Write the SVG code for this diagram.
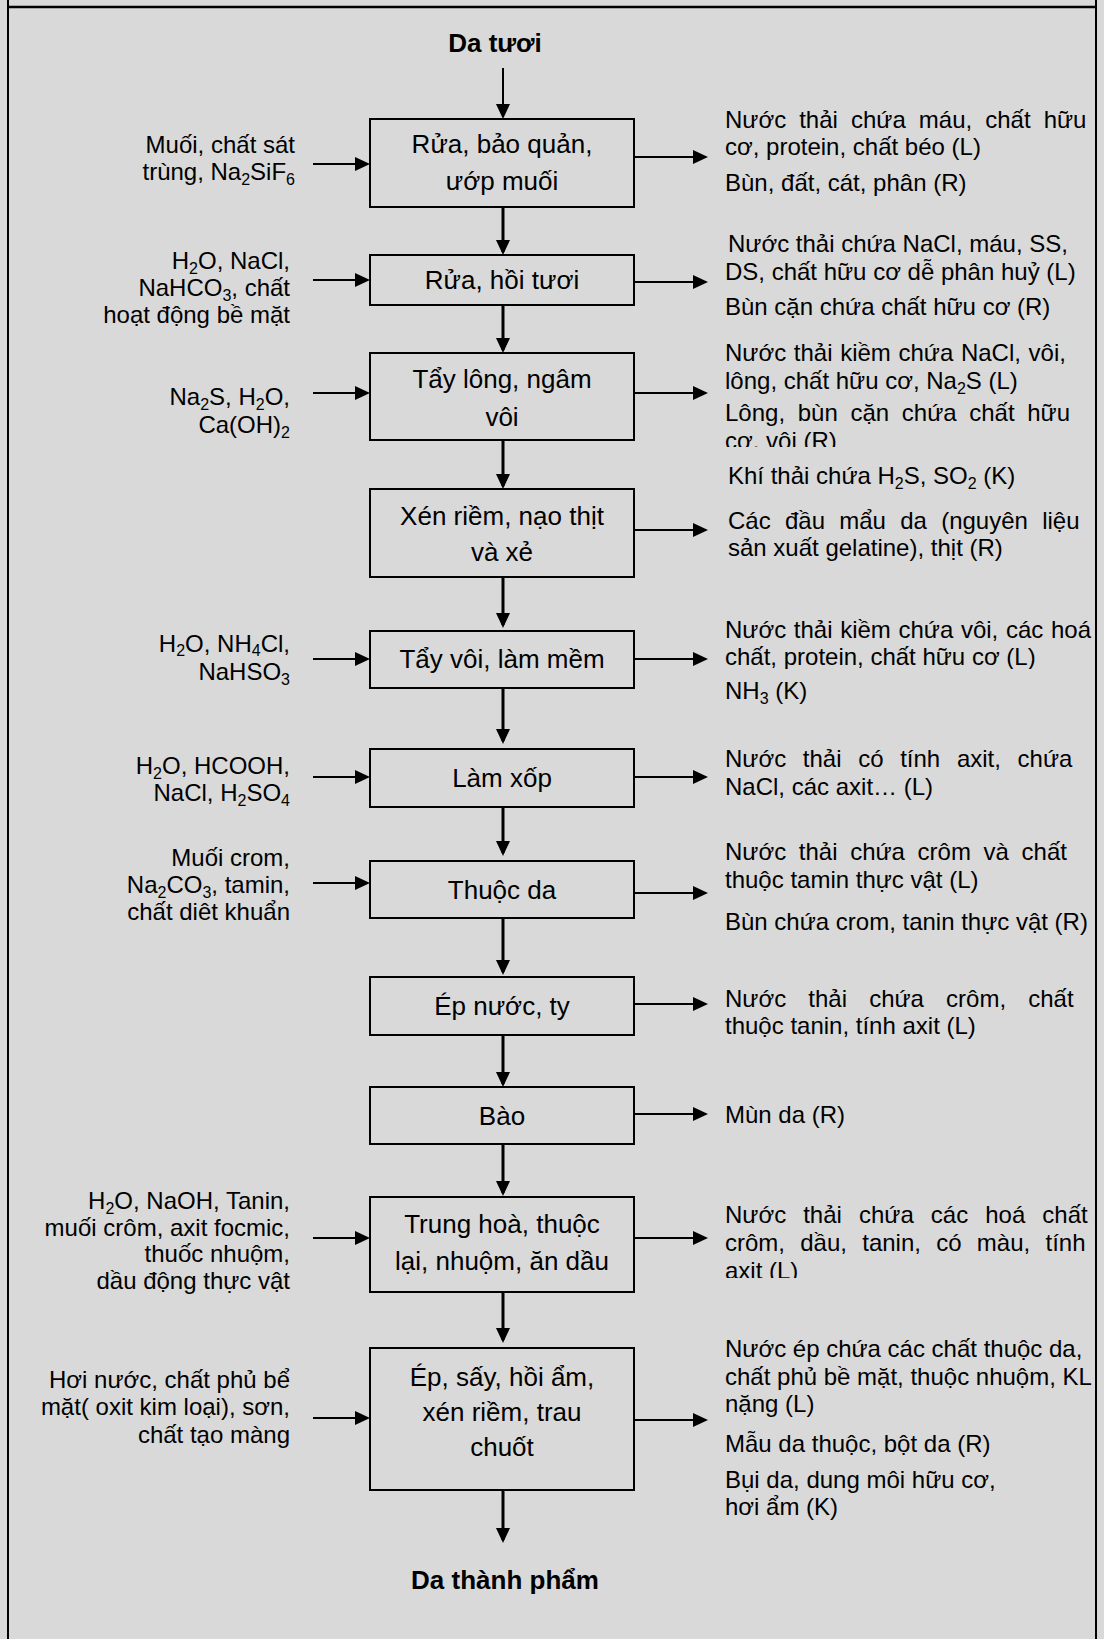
<svg xmlns="http://www.w3.org/2000/svg" width="1104" height="1639" viewBox="0 0 1104 1639">
  <defs>
    <style>
      text { font-family: "Liberation Sans", Arial, sans-serif; fill: #000; }
      .box { fill: none; stroke: #000; stroke-width: 2; }
      .bt { font-size: 26px; text-anchor: middle; }
      .hd { font-size: 26px; font-weight: bold; text-anchor: middle; }
      .lt { font-size: 24px; text-anchor: end; }
      .rt { font-size: 24px; }
      .s { font-size: 16px; }
      .v { stroke: #000; stroke-width: 3; fill: none; marker-end: url(#ah); }
      .v0 { stroke: #000; stroke-width: 2; fill: none; marker-end: url(#ah); }
      .h { stroke: #000; stroke-width: 2; fill: none; marker-end: url(#ah); }
      .frame { stroke: #000; fill: none; }
    </style>
    <marker id="ah" markerUnits="userSpaceOnUse" markerWidth="15" markerHeight="14" refX="12" refY="7" orient="auto">
      <path d="M0,0 L15,7 L0,14 z" fill="#000"/>
    </marker>
    <clipPath id="clip3"><rect x="700" y="330" width="400" height="117"/></clipPath>
    <clipPath id="clip5"><rect x="700" y="610" width="400" height="59"/></clipPath>
    <clipPath id="clip10"><rect x="700" y="1190" width="400" height="88"/></clipPath>
  </defs>

  <!-- page background and table frame -->
  <rect x="0" y="0" width="1104" height="1639" fill="#d9d9d9"/>
  <line class="frame" x1="8" y1="7" x2="1096" y2="7" stroke-width="2.5"/>
  <line class="frame" x1="8" y1="0" x2="8" y2="1639" stroke-width="2"/>
  <line class="frame" x1="1096" y1="0" x2="1096" y2="1639" stroke-width="2"/>

  <!-- flow connectors -->
  <g id="connectors">
    <line class="v0" x1="503" y1="68" x2="503" y2="116"/>
    <line class="v" x1="503" y1="207" x2="503" y2="252"/>
    <line class="v" x1="503" y1="305" x2="503" y2="350"/>
    <line class="v" x1="503" y1="440" x2="503" y2="486"/>
    <line class="v" x1="503" y1="577" x2="503" y2="625"/>
    <line class="v" x1="503" y1="688" x2="503" y2="741"/>
    <line class="v" x1="503" y1="807" x2="503" y2="853"/>
    <line class="v" x1="503" y1="918" x2="503" y2="972"/>
    <line class="v" x1="503" y1="1035" x2="503" y2="1084"/>
    <line class="v" x1="503" y1="1144" x2="503" y2="1193"/>
    <line class="v" x1="503" y1="1292" x2="503" y2="1340"/>
    <line class="v" x1="503" y1="1490" x2="503" y2="1540"/>
    <!-- inputs -->
    <line class="h" x1="313" y1="164" x2="367" y2="164"/>
    <line class="h" x1="313" y1="280" x2="367" y2="280"/>
    <line class="h" x1="313" y1="393" x2="367" y2="393"/>
    <line class="h" x1="313" y1="659" x2="367" y2="659"/>
    <line class="h" x1="313" y1="777" x2="367" y2="777"/>
    <line class="h" x1="313" y1="883" x2="367" y2="883"/>
    <line class="h" x1="313" y1="1238" x2="367" y2="1238"/>
    <line class="h" x1="313" y1="1418" x2="367" y2="1418"/>
    <!-- outputs -->
    <line class="h" x1="635" y1="157" x2="705" y2="157"/>
    <line class="h" x1="635" y1="282" x2="705" y2="282"/>
    <line class="h" x1="635" y1="393" x2="705" y2="393"/>
    <line class="h" x1="635" y1="530" x2="705" y2="530"/>
    <line class="h" x1="635" y1="659" x2="705" y2="659"/>
    <line class="h" x1="635" y1="777" x2="705" y2="777"/>
    <line class="h" x1="635" y1="893" x2="705" y2="893"/>
    <line class="h" x1="635" y1="1004" x2="705" y2="1004"/>
    <line class="h" x1="635" y1="1114" x2="705" y2="1114"/>
    <line class="h" x1="635" y1="1238" x2="705" y2="1238"/>
    <line class="h" x1="635" y1="1420" x2="705" y2="1420"/>
  </g>

  <g id="start">
    <text class="hd" x="495" y="52">Da tươi</text>
  </g>

  <g id="step1">
    <rect class="box" x="370" y="119" width="264" height="88"/>
    <text class="bt" x="502" y="153">Rửa, bảo quản,</text>
    <text class="bt" x="502" y="190">ướp muối</text>
  </g>
  <g id="in1">
    <text class="lt" x="295" y="153">Muối, chất sát</text>
    <text class="lt" x="295" y="180">trùng, Na<tspan class="s" dy="5">2</tspan><tspan dy="-5">SiF</tspan><tspan class="s" dy="5">6</tspan></text>
  </g>
  <g id="out1">
    <text class="rt" x="725" y="128" style="word-spacing:6.4px">Nước thải chứa máu, chất hữu</text>
    <text class="rt" x="725" y="155">cơ, protein, chất béo (L)</text>
    <text class="rt" x="725" y="191">Bùn, đất, cát, phân (R)</text>
  </g>

  <g id="step2">
    <rect class="box" x="370" y="255" width="264" height="50"/>
    <text class="bt" x="502" y="289">Rửa, hồi tươi</text>
  </g>
  <g id="in2">
    <text class="lt" x="290" y="269">H<tspan class="s" dy="5">2</tspan><tspan dy="-5">O, NaCl,</tspan></text>
    <text class="lt" x="290" y="296">NaHCO<tspan class="s" dy="5">3</tspan><tspan dy="-5">, chất</tspan></text>
    <text class="lt" x="290" y="323">hoạt động bề mặt</text>
  </g>
  <g id="out2">
    <text class="rt" x="728" y="252">Nước thải chứa NaCl, máu, SS,</text>
    <text class="rt" x="725" y="280">DS, chất hữu cơ dễ phân huỷ (L)</text>
    <text class="rt" x="725" y="315">Bùn cặn chứa chất hữu cơ (R)</text>
  </g>

  <g id="step3">
    <rect class="box" x="370" y="353" width="264" height="87"/>
    <text class="bt" x="502" y="388">Tẩy lông, ngâm</text>
    <text class="bt" x="502" y="426">vôi</text>
  </g>
  <g id="in3">
    <text class="lt" x="290" y="405">Na<tspan class="s" dy="5">2</tspan><tspan dy="-5">S, H</tspan><tspan class="s" dy="5">2</tspan><tspan dy="-5">O,</tspan></text>
    <text class="lt" x="290" y="433">Ca(OH)<tspan class="s" dy="5">2</tspan></text>
  </g>
  <g id="out3" clip-path="url(#clip3)">
    <text class="rt" x="725" y="361" style="word-spacing:1px">Nước thải kiềm chứa NaCl, vôi,</text>
    <text class="rt" x="725" y="389">lông, chất hữu cơ, Na<tspan class="s" dy="5">2</tspan><tspan dy="-5">S (L)</tspan></text>
    <text class="rt" x="725" y="421" style="word-spacing:6px">Lông, bùn cặn chứa chất hữu</text>
    <text class="rt" x="725" y="449">cơ, vôi (R)</text>
  </g>

  <g id="step4">
    <rect class="box" x="370" y="489" width="264" height="88"/>
    <text class="bt" x="502" y="525">Xén riềm, nạo thịt</text>
    <text class="bt" x="502" y="561">và xẻ</text>
  </g>
  <g id="out4">
    <text class="rt" x="728" y="484">Khí thải chứa H<tspan class="s" dy="5">2</tspan><tspan dy="-5">S, SO</tspan><tspan class="s" dy="5">2</tspan><tspan dy="-5"> (K)</tspan></text>
    <text class="rt" x="728" y="529" style="word-spacing:7.6px">Các đầu mẩu da (nguyên liệu</text>
    <text class="rt" x="728" y="556">sản xuất gelatine), thịt (R)</text>
  </g>

  <g id="step5">
    <rect class="box" x="370" y="631" width="264" height="57"/>
    <text class="bt" x="502" y="668">Tẩy vôi, làm mềm</text>
  </g>
  <g id="in5">
    <text class="lt" x="290" y="652">H<tspan class="s" dy="4">2</tspan><tspan dy="-4">O, NH</tspan><tspan class="s" dy="4">4</tspan><tspan dy="-4">Cl,</tspan></text>
    <text class="lt" x="290" y="680">NaHSO<tspan class="s" dy="5">3</tspan></text>
  </g>
  <g id="out5">
    <g clip-path="url(#clip5)">
      <text class="rt" x="725" y="638" style="word-spacing:1px">Nước thải kiềm chứa vôi, các hoá</text>
      <text class="rt" x="725" y="665">chất, protein, chất hữu cơ (L)</text>
    </g>
    <text class="rt" x="725" y="699">NH<tspan class="s" dy="5">3</tspan><tspan dy="-5"> (K)</tspan></text>
  </g>

  <g id="step6">
    <rect class="box" x="370" y="749" width="264" height="58"/>
    <text class="bt" x="502" y="787">Làm xốp</text>
  </g>
  <g id="in6">
    <text class="lt" x="290" y="774">H<tspan class="s" dy="5">2</tspan><tspan dy="-5">O, HCOOH,</tspan></text>
    <text class="lt" x="290" y="801">NaCl, H<tspan class="s" dy="5">2</tspan><tspan dy="-5">SO</tspan><tspan class="s" dy="5">4</tspan></text>
  </g>
  <g id="out6">
    <text class="rt" x="725" y="767" style="word-spacing:10px">Nước thải có tính axit, chứa</text>
    <text class="rt" x="725" y="795">NaCl, các axit… (L)</text>
  </g>

  <g id="step7">
    <rect class="box" x="370" y="861" width="264" height="57"/>
    <text class="bt" x="502" y="899">Thuộc da</text>
  </g>
  <g id="in7">
    <text class="lt" x="290" y="866">Muối crom,</text>
    <text class="lt" x="290" y="893">Na<tspan class="s" dy="5">2</tspan><tspan dy="-5">CO</tspan><tspan class="s" dy="5">3</tspan><tspan dy="-5">, tamin,</tspan></text>
    <text class="lt" x="290" y="920">chất diêt khuẩn</text>
  </g>
  <g id="out7">
    <text class="rt" x="725" y="860" style="word-spacing:6px">Nước thải chứa crôm và chất</text>
    <text class="rt" x="725" y="888">thuộc tamin thực vật (L)</text>
    <text class="rt" x="725" y="930">Bùn chứa crom, tanin thực vật (R)</text>
  </g>

  <g id="step8">
    <rect class="box" x="370" y="977" width="264" height="58"/>
    <text class="bt" x="502" y="1015">Ép nước, ty</text>
  </g>
  <g id="out8">
    <text class="rt" x="725" y="1007" style="word-spacing:15.5px">Nước thải chứa crôm, chất</text>
    <text class="rt" x="725" y="1034">thuộc tanin, tính axit (L)</text>
  </g>

  <g id="step9">
    <rect class="box" x="370" y="1087" width="264" height="57"/>
    <text class="bt" x="502" y="1125">Bào</text>
  </g>
  <g id="out9">
    <text class="rt" x="725" y="1123">Mùn da (R)</text>
  </g>

  <g id="step10">
    <rect class="box" x="370" y="1197" width="264" height="95"/>
    <text class="bt" x="502" y="1233">Trung hoà, thuộc</text>
    <text class="bt" x="502" y="1270">lại, nhuộm, ăn dầu</text>
  </g>
  <g id="in10">
    <text class="lt" x="290" y="1209">H<tspan class="s" dy="5">2</tspan><tspan dy="-5">O, NaOH, Tanin,</tspan></text>
    <text class="lt" x="290" y="1236">muối crôm, axit focmic,</text>
    <text class="lt" x="290" y="1262">thuốc nhuộm,</text>
    <text class="lt" x="290" y="1289">dầu động thực vật</text>
  </g>
  <g id="out10" clip-path="url(#clip10)">
    <text class="rt" x="725" y="1223" style="word-spacing:10.4px">Nước thải chứa các hoá chất</text>
    <text class="rt" x="725" y="1251" style="word-spacing:8.6px">crôm, dầu, tanin, có màu, tính</text>
    <text class="rt" x="725" y="1279">axit (L)</text>
  </g>

  <g id="step11">
    <rect class="box" x="370" y="1348" width="264" height="142"/>
    <text class="bt" x="502" y="1386">Ép, sấy, hồi ẩm,</text>
    <text class="bt" x="502" y="1421">xén riềm, trau</text>
    <text class="bt" x="502" y="1456">chuốt</text>
  </g>
  <g id="in11">
    <text class="lt" x="290" y="1388">Hơi nước, chất phủ bể</text>
    <text class="lt" x="290" y="1415">mặt( oxit kim loại), sơn,</text>
    <text class="lt" x="290" y="1443">chất tạo màng</text>
  </g>
  <g id="out11">
    <text class="rt" x="725" y="1357">Nước ép chứa các chất thuộc da,</text>
    <text class="rt" x="725" y="1385">chất phủ bề mặt, thuộc nhuộm, KL</text>
    <text class="rt" x="725" y="1412">nặng (L)</text>
    <text class="rt" x="725" y="1452">Mẫu da thuộc, bột da (R)</text>
    <text class="rt" x="725" y="1488">Bụi da, dung môi hữu cơ,</text>
    <text class="rt" x="725" y="1515">hơi ẩm (K)</text>
  </g>

  <g id="end">
    <text class="hd" x="505" y="1589">Da thành phẩm</text>
  </g>
</svg>
